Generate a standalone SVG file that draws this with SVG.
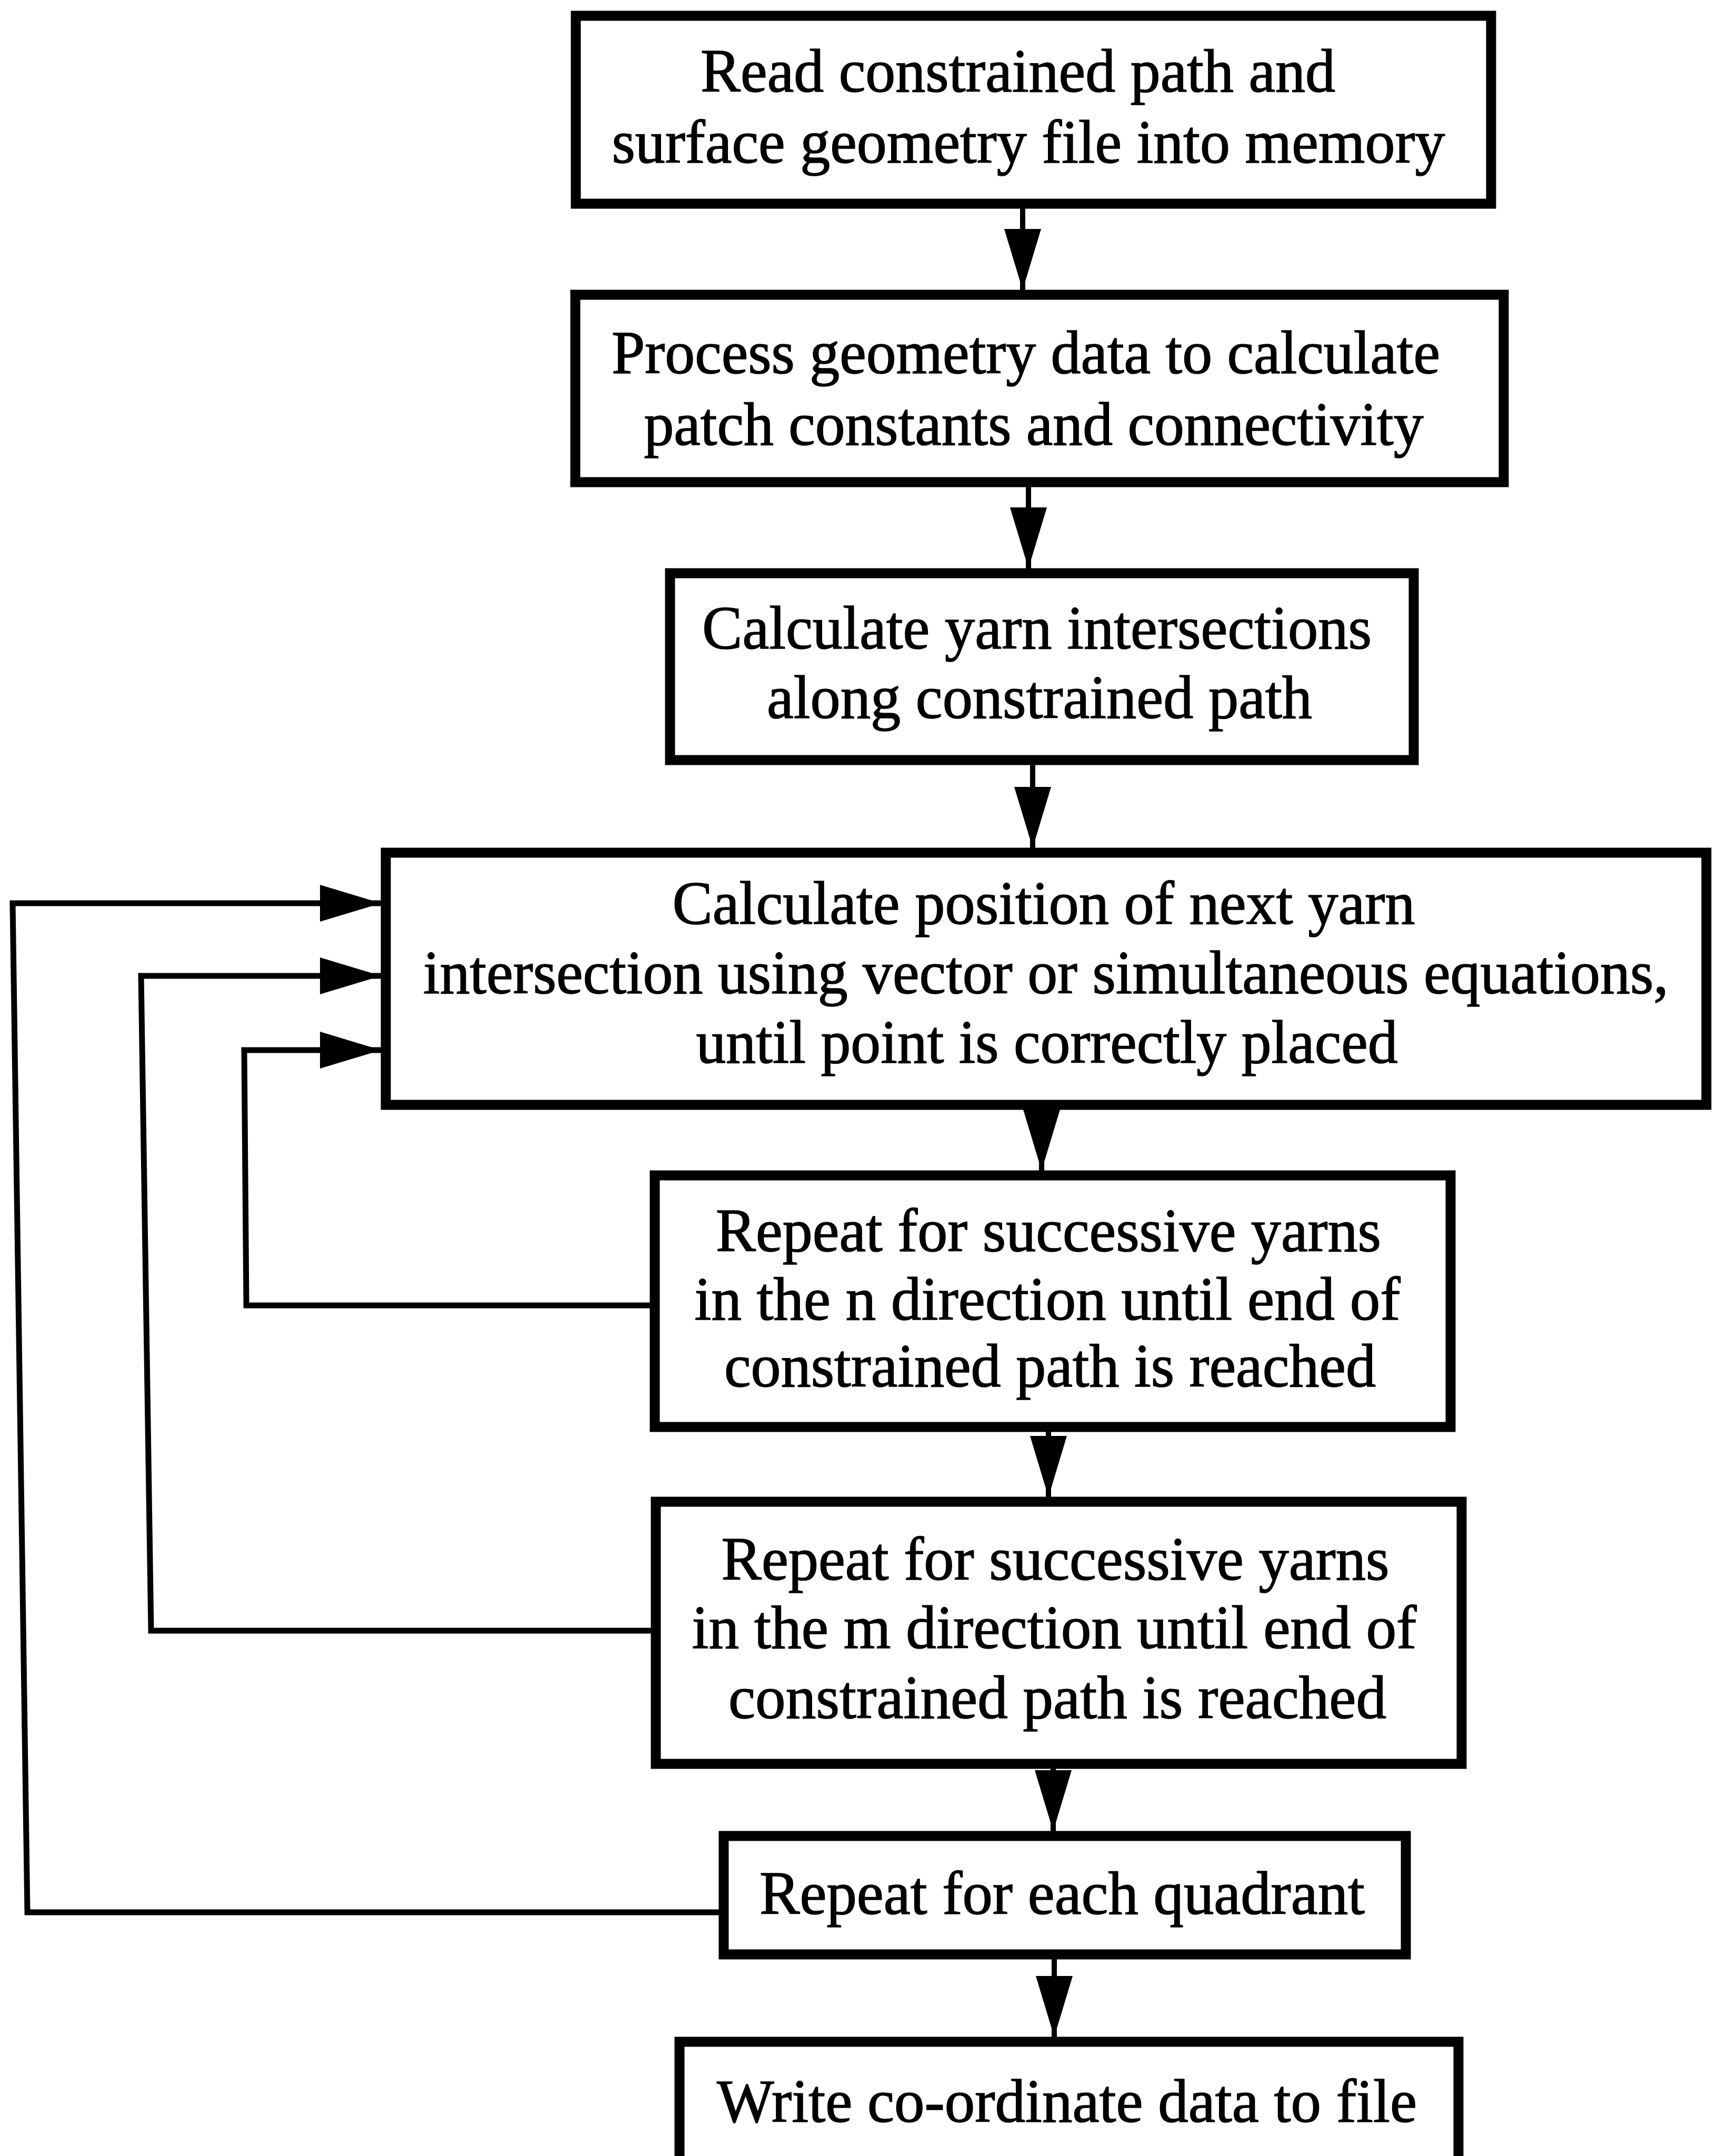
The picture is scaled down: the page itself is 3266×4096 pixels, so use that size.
<svg xmlns="http://www.w3.org/2000/svg" width="3266" height="4096" viewBox="0 0 3266 4096">
  <defs>
    <style>
      .box { fill: #ffffff; stroke: #000000; stroke-width: 19; }
      .lbl { font-family: "Liberation Serif", "Times New Roman", serif; font-size: 116px; text-anchor: middle; fill: #000000; stroke: #000000; stroke-width: 1.6; }
      .wire { fill: none; stroke: #000000; stroke-width: 11; stroke-linejoin: miter; }
      .shaft { fill: none; stroke: #000000; stroke-width: 10; }
    </style>
    <marker id="head" markerUnits="userSpaceOnUse" markerWidth="116" markerHeight="70" refX="116" refY="35" orient="auto">
      <path d="M0,0 L116,35 L0,70 Z" fill="#000000"/>
    </marker>
  </defs>
  <rect width="3266" height="4096" fill="#ffffff"/>

  <!-- connectors -->
  <g id="connectors">
    <line class="shaft" x1="1943" y1="387" x2="1943" y2="551" marker-end="url(#head)"/>
    <line class="shaft" x1="1954" y1="916" x2="1954" y2="1080" marker-end="url(#head)"/>
    <line class="shaft" x1="1962" y1="1444" x2="1962" y2="1611" marker-end="url(#head)"/>
    <line class="shaft" x1="1979" y1="2099" x2="1979" y2="2224" marker-end="url(#head)"/>
    <line class="shaft" x1="1992" y1="2711" x2="1992" y2="2844" marker-end="url(#head)"/>
    <line class="shaft" x1="2001" y1="3351" x2="2001" y2="3479" marker-end="url(#head)"/>
    <line class="shaft" x1="2003" y1="3713" x2="2003" y2="3870" marker-end="url(#head)"/>
    <!-- feedback loops back into the position calculation -->
    <polyline class="wire" points="1375,3633 52,3633 24,1716 724,1716" marker-end="url(#head)"/>
    <polyline class="wire" points="1246,3098 287,3098 268,1854 724,1854" marker-end="url(#head)"/>
    <polyline class="wire" points="1244,2480 468,2480 464,1995 724,1995" marker-end="url(#head)"/>
  </g>

  <g id="read-input">
    <rect class="box" x="1094" y="30" width="1739" height="357"/>
    <text class="lbl" x="1934" y="174" textLength="1206" lengthAdjust="spacingAndGlyphs">Read constrained path and</text>
    <text class="lbl" x="1954" y="309" textLength="1583" lengthAdjust="spacingAndGlyphs">surface geometry file into memory</text>
  </g>

  <g id="process-geometry">
    <rect class="box" x="1093" y="560" width="1764" height="356"/>
    <text class="lbl" x="1949" y="709" textLength="1574" lengthAdjust="spacingAndGlyphs">Process geometry data to calculate</text>
    <text class="lbl" x="1964" y="845" textLength="1481" lengthAdjust="spacingAndGlyphs">patch constants and connectivity</text>
  </g>

  <g id="path-intersections">
    <rect class="box" x="1273" y="1089" width="1413" height="355"/>
    <text class="lbl" x="1970" y="1232" textLength="1272" lengthAdjust="spacingAndGlyphs">Calculate yarn intersections</text>
    <text class="lbl" x="1975" y="1364" textLength="1036" lengthAdjust="spacingAndGlyphs">along constrained path</text>
  </g>

  <g id="next-intersection">
    <rect class="box" x="733" y="1620" width="2509" height="479"/>
    <text class="lbl" x="1983" y="1755" textLength="1411" lengthAdjust="spacingAndGlyphs">Calculate position of next yarn</text>
    <text class="lbl" x="1987" y="1887" textLength="2366" lengthAdjust="spacingAndGlyphs">intersection using vector or simultaneous equations,</text>
    <text class="lbl" x="1989" y="2019" textLength="1333" lengthAdjust="spacingAndGlyphs">until point is correctly placed</text>
  </g>

  <g id="repeat-n">
    <rect class="box" x="1244" y="2233" width="1512" height="478"/>
    <text class="lbl" x="1992" y="2377" textLength="1264" lengthAdjust="spacingAndGlyphs">Repeat for successive yarns</text>
    <text class="lbl" x="1990" y="2507" textLength="1341" lengthAdjust="spacingAndGlyphs">in the n direction until end of</text>
    <text class="lbl" x="1995" y="2634" textLength="1238" lengthAdjust="spacingAndGlyphs">constrained path is reached</text>
  </g>

  <g id="repeat-m">
    <rect class="box" x="1246" y="2853" width="1531" height="498"/>
    <text class="lbl" x="2005" y="3001" textLength="1269" lengthAdjust="spacingAndGlyphs">Repeat for successive yarns</text>
    <text class="lbl" x="2003" y="3131" textLength="1377" lengthAdjust="spacingAndGlyphs">in the m direction until end of</text>
    <text class="lbl" x="2009" y="3264" textLength="1250" lengthAdjust="spacingAndGlyphs">constrained path is reached</text>
  </g>

  <g id="repeat-quadrant">
    <rect class="box" x="1375" y="3488" width="1296" height="225"/>
    <text class="lbl" x="2018" y="3636" textLength="1150" lengthAdjust="spacingAndGlyphs">Repeat for each quadrant</text>
  </g>

  <g id="write-output">
    <rect class="box" x="1291" y="3879" width="1480" height="271"/>
    <text class="lbl" x="2027" y="4031" textLength="1330" lengthAdjust="spacingAndGlyphs">Write co-ordinate data to file</text>
  </g>
</svg>
